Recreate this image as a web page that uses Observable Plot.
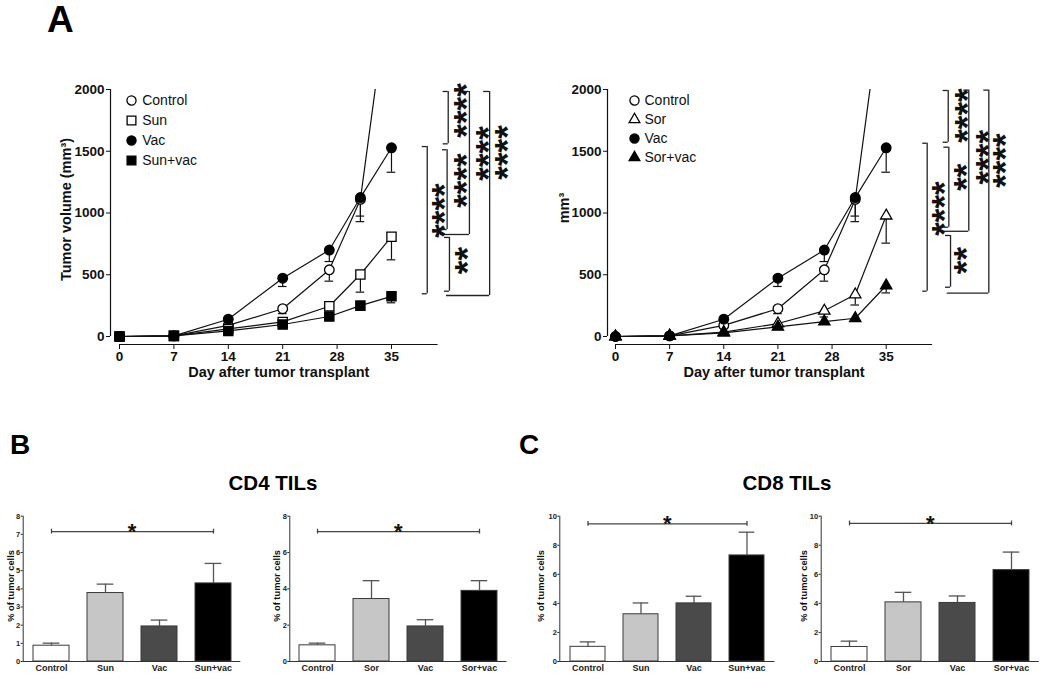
<!DOCTYPE html>
<html>
<head>
<meta charset="utf-8">
<script src="https://cdn.jsdelivr.net/npm/d3@7"></script>
<script src="https://cdn.jsdelivr.net/npm/@observablehq/plot@0.6"></script>
<style>
html,body{margin:0;padding:0;background:#fff;}
body{position:relative;width:1050px;height:678px;overflow:hidden;font-family:"Liberation Sans",Arial,sans-serif;}
.lbl{position:absolute;font-weight:bold;line-height:1;white-space:nowrap;color:#000;}
.holder{position:absolute;}
.holder svg{overflow:visible;}
.bars [aria-label^="y-axis"] text{font-size:7.5px;}
</style>
</head>
<body>
<div class="lbl" style="left:47px;top:1px;font-size:37px">A</div>
<div class="lbl" style="left:10px;top:431px;font-size:28px">B</div>
<div class="lbl" style="left:519px;top:431px;font-size:28px">C</div>
<div class="lbl" style="left:173px;top:473px;width:200px;text-align:center;font-size:20.5px">CD4 TILs</div>
<div class="lbl" style="left:687px;top:473px;width:200px;text-align:center;font-size:20.5px">CD8 TILs</div>
<script>
// ---------------- DATA ----------------
const days = [0, 7, 14, 21, 27, 31, 35];
const dayTicks = [0, 7, 14, 21, 28, 35];
const volTicks = [0, 500, 1000, 1500, 2000];

// tumor volume (mm3), mean and lower error (SEM)
const controlVol = [0, 5, 90, 225, 540, 1110, 2980];
const controlSem = [0, 0, 12, 40, 92, 180, 0];
const vacVol = [0, 5, 140, 472, 700, 1125, 1528];
const vacSem = [0, 0, 18, 67, 93, 150, 198];
const sunVol = [0, 5, 62, 118, 245, 502, 808];
const sunSem = [0, 0, 8, 12, 25, 143, 187];
const sunVacVol = [0, 5, 45, 97, 162, 250, 325];
const sunVacSem = [0, 0, 6, 10, 18, 23, 52];
const sorVol = [0, 5, 35, 105, 208, 340, 978];
const sorSem = [0, 0, 8, 15, 50, 85, 222];
const sorVacVol = [0, 5, 30, 78, 120, 148, 413];
const sorVacSem = [0, 0, 5, 8, 12, 8, 60];

const sunGroups = ["Control", "Sun", "Vac", "Sun+vac"];
const sorGroups = ["Control", "Sor", "Vac", "Sor+vac"];

// significance comparisons (bracket ends and label centre in mm3)
const sunComparisons = [
  {pair: "Control vs Vac", stars: "****", top: 1984, bottom: 1560, labelAt: 1830},
  {pair: "Control vs Sun", stars: "****", top: 1984, bottom: 826, labelAt: 1482},
  {pair: "Control vs Sun+vac", stars: "****", top: 1984, bottom: 332, labelAt: 1490},
  {pair: "Vac vs Sun+vac", stars: "****", top: 1538, bottom: 346, labelAt: 1020},
  {pair: "Vac vs Sun", stars: "****", top: 1512, bottom: 866, labelAt: 1263},
  {pair: "Sun vs Sun+vac", stars: "**", top: 802, bottom: 367, labelAt: 615}
];
const sorComparisons = [
  {pair: "Control vs Vac", stars: "****", top: 1992, bottom: 1573, labelAt: 1789},
  {pair: "Control vs Sor", stars: "****", top: 1995, bottom: 852, labelAt: 1452},
  {pair: "Control vs Sor+vac", stars: "****", top: 1995, bottom: 351, labelAt: 1425},
  {pair: "Vac vs Sor+vac", stars: "****", top: 1565, bottom: 367, labelAt: 1036},
  {pair: "Vac vs Sor", stars: "**", top: 1533, bottom: 885, labelAt: 1290},
  {pair: "Sor vs Sor+vac", stars: "**", top: 818, bottom: 399, labelAt: 615}
];

// TIL bar charts (% of tumor cells)
const cd4SunMean = [0.87, 3.77, 1.93, 4.30];
const cd4SunSem = [0.14, 0.49, 0.35, 1.10];
const cd4SorMean = [0.89, 3.44, 1.93, 3.89];
const cd4SorSem = [0.12, 1.01, 0.37, 0.56];
const cd8SunMean = [1.01, 3.25, 4.00, 7.30];
const cd8SunSem = [0.34, 0.78, 0.49, 1.60];
const cd8SorMean = [1.00, 4.07, 4.03, 6.29];
const cd8SorSem = [0.40, 0.69, 0.48, 1.24];
const ticksCd4a = [0, 1, 2, 3, 4, 5, 6, 7, 8];
const ticksCd4b = [0, 2, 4, 6, 8];
const ticksCd8 = [0, 2, 4, 6, 8, 10];
const sigCd4Sun = 7.15, sigCd4Sor = 7.15, sigCd8Sun = 9.47, sigCd8Sor = 9.5;

// ---------------- STYLE / LAYOUT ----------------
const FONT = '"Liberation Sans", Arial, Helvetica, sans-serif';
const markerStyle = {
  "Control": {symbol: "circle", fill: "white", r: 4.8},
  "Vac": {symbol: "circle", fill: "black", r: 4.8},
  "Sun": {symbol: "square", fill: "white", r: 5.2},
  "Sun+vac": {symbol: "square", fill: "black", r: 5.2},
  "Sor": {symbol: "triangle", fill: "white", r: 4.2},
  "Sor+vac": {symbol: "triangle", fill: "black", r: 4.2}
};
const barFills = ["white", "#c6c6c6", "#4a4a4a", "#000000"];

// bracket geometry in day units (layout)
const sunBracketLayout = [
  {col: 42.30, topFrom: 41.65, bottomFrom: 41.65, starX: 43.62},
  {col: 45.03, topFrom: 44.25, bottomFrom: 41.29, starX: 46.45},
  {col: 47.63, topFrom: 46.86, bottomFrom: 42.08, starX: 48.90},
  {col: 39.60, topFrom: 38.96, bottomFrom: 38.96, starX: 40.79},
  {col: 42.16, topFrom: 41.56, bottomFrom: 41.56, starX: 43.62},
  {col: 42.46, topFrom: 41.82, bottomFrom: 41.82, starX: 43.75}
];
const sorBracketLayout = [
  {col: 43.02, topFrom: 42.37, bottomFrom: 42.37, starX: 44.48},
  {col: 45.68, topFrom: 45.03, bottomFrom: 42.37, starX: 47.19},
  {col: 48.27, topFrom: 47.62, bottomFrom: 42.89, starX: 49.48},
  {col: 40.30, topFrom: 39.73, bottomFrom: 39.73, starX: 41.50},
  {col: 43.10, topFrom: 42.45, bottomFrom: 42.45, starX: 44.39},
  {col: 43.32, topFrom: 42.67, bottomFrom: 42.67, starX: 44.39}
];

function place(node, left, top, cls) {
  const div = document.createElement("div");
  div.className = "holder" + (cls ? " " + cls : "");
  div.style.left = left + "px";
  div.style.top = top + "px";
  div.appendChild(node);
  document.body.appendChild(div);
}

function tumorPanel(o) {
  const rows = o.groups.flatMap(g => days.map((d, i) => ({
    group: g, day: d, vol: o.vol[g][i], sem: o.sem[g][i], lo: o.vol[g][i] - o.sem[g][i]
  })));
  const err = rows.filter(r => r.sem > 0 && r.vol <= 2000);
  const br = o.comparisons.map((c, i) => Object.assign({}, c, o.layout[i]));
  const ink = "#111";
  const marks = [
    Plot.ruleX([0], {y1: () => 0, y2: () => 2000, dx: o.yAxisDx, stroke: ink, strokeWidth: 1.2}),
    Plot.ruleY([0], {x1: () => 0, x2: () => 41, dy: 8, stroke: ink, strokeWidth: 1.2}),
    ...o.groups.map(g => Plot.line(rows.filter(r => r.group === g), {x: "day", y: "vol", stroke: ink, strokeWidth: 1.2, clip: true})),
    Plot.ruleX(err, {x: "day", y1: "lo", y2: "vol", stroke: ink, strokeWidth: 1.2}),
    Plot.ruleY(err, {y: "lo", x1: "day", x2: "day", insetLeft: -4.3, insetRight: -4.3, stroke: ink, strokeWidth: 1.2}),
    ...o.groups.map(g => Plot.dot(rows.filter(r => r.group === g), {
      x: "day", y: "vol", symbol: markerStyle[g].symbol, r: markerStyle[g].r,
      fill: markerStyle[g].fill, stroke: "black", strokeWidth: 1.3, clip: true
    })),
    Plot.ruleX(br, {x: "col", y1: "bottom", y2: "top", stroke: "#222", strokeWidth: 1.3}),
    Plot.ruleY(br, {y: "top", x1: "topFrom", x2: "col", stroke: "#222", strokeWidth: 1.3}),
    Plot.ruleY(br, {y: "bottom", x1: "bottomFrom", x2: "col", stroke: "#222", strokeWidth: 1.3}),
    Plot.text(br, {x: "starX", y: "labelAt", text: "stars", rotate: -90, fontSize: 35, fontWeight: "bold", dx: 8, fill: "#111", textAnchor: "middle"}),
    Plot.text(["Day after tumor transplant"], {x: () => 20.5, frameAnchor: "bottom", text: d => d, dy: 32.5, fontSize: 14.5, fontWeight: "bold", textAnchor: "middle"}),
    Plot.text([o.yLabel], {frameAnchor: "left", text: d => d, rotate: -90, dx: o.yLabelDx, dy: o.yLabelDy, fontSize: 14.5, fontWeight: "bold", textAnchor: "middle"})
  ];
  return Plot.plot({
    width: 525, height: 390,
    marginLeft: o.marginLeft, marginTop: 89, marginBottom: 46, marginRight: 0,
    x: {domain: [0, 41], range: o.xRange, ticks: dayTicks, tickSize: 5, tickPadding: 2, tickFormat: d => `${d}`, label: null},
    y: {domain: [0, 2000], range: [336, 89], ticks: volTicks, tickSize: 4, tickPadding: 2, tickFormat: d => `${d}`, label: null},
    style: {fontFamily: FONT, fontSize: "13.5px", fontWeight: "bold", background: "transparent", color: "#111", overflow: "visible"},
    marks
  });
}

function legendPanel(groups, rangeY, dotDx, textDx) {
  return Plot.plot({
    width: 120, height: 84, margin: 0,
    y: {type: "point", domain: groups, range: rangeY, padding: 0, axis: null},
    style: {fontFamily: FONT, background: "transparent", overflow: "visible"},
    marks: [
      ...groups.map(g => Plot.dot([g], {y: d => d, frameAnchor: "left", dx: dotDx,
        symbol: markerStyle[g].symbol, r: markerStyle[g].r * 0.95, fill: markerStyle[g].fill, stroke: "black", strokeWidth: 1.3})),
      Plot.text(groups, {y: d => d, text: d => d, frameAnchor: "left", dx: textDx, textAnchor: "start", fontSize: 14, fontWeight: "normal", fill: "#111"})
    ]
  });
}

function barPanel(o) {
  const rows = o.groups.map((g, i) => ({group: g, mean: o.mean[i], hi: o.mean[i] + o.sem[i], fill: barFills[i]}));
  const ink = "#333";
  return Plot.plot({
    width: o.width, height: 178,
    marginLeft: o.ml, marginRight: o.mr, marginTop: 15.7, marginBottom: 17,
    x: {type: "band", domain: o.groups, paddingInner: 0.34, paddingOuter: 0.17, tickSize: 0, tickPadding: 3, label: null},
    y: {domain: [0, o.yMax], ticks: o.yTicks, tickSize: 2, tickPadding: 1, tickFormat: d => `${d}`, label: null},
    style: {fontFamily: FONT, fontSize: "9px", fontWeight: "bold", background: "transparent", color: "#222", overflow: "visible"},
    marks: [
      ...rows.map(r => Plot.barY([r], {x: "group", y: "mean", fill: r.fill, stroke: "#3a3a3a", strokeWidth: 1})),
      Plot.ruleX(rows, {x: "group", y1: "mean", y2: "hi", stroke: "#555", strokeWidth: 1.3}),
      Plot.tickY(rows, {x: "group", y: "hi", insetLeft: 9.7, insetRight: 9.7, stroke: "#555", strokeWidth: 1.3}),
      Plot.ruleY([0], {stroke: ink, strokeWidth: 1}),
      Plot.frame({anchor: "left", stroke: ink, strokeWidth: 1}),
      Plot.link([o.sig], {x1: () => o.groups[0], x2: () => o.groups[3], y1: d => d, y2: d => d, stroke: "#444", strokeWidth: 1.3}),
      Plot.ruleX([o.groups[0], o.groups[3]], {x: d => d, y1: () => o.sig, y2: () => o.sig, insetTop: -2.4, insetBottom: -2.4, stroke: "#444", strokeWidth: 1.3}),
      Plot.text([o.sig], {y: d => d, text: () => "*", fontSize: 22, fontWeight: "bold", fill: "#111", textAnchor: "middle"}),
      Plot.text(["% of tumor cells"], {frameAnchor: "left", text: d => d, rotate: -90, dx: o.labDx, dy: -2.9, fontSize: 9.3, fontWeight: "bold", fill: "#111", textAnchor: "middle"})
    ]
  });
}

// ---------------- RENDER ----------------
place(tumorPanel({
  groups: sunGroups,
  vol: {"Control": controlVol, "Sun": sunVol, "Vac": vacVol, "Sun+vac": sunVacVol},
  sem: {"Control": controlSem, "Sun": sunSem, "Vac": vacSem, "Sun+vac": sunVacSem},
  comparisons: sunComparisons, layout: sunBracketLayout,
  marginLeft: 110, xRange: [119, 119 + 41 * 7.771], yAxisDx: -9,
  yLabel: "Tumor volume (mm³)", yLabelDx: -44, yLabelDy: -7.5
}), 0, 0);
place(legendPanel(sunGroups, [11.3, 72.7], 11, 21.7), 120, 88);

place(tumorPanel({
  groups: sorGroups,
  vol: {"Control": controlVol, "Sor": sorVol, "Vac": vacVol, "Sor+vac": sorVacVol},
  sem: {"Control": controlSem, "Sor": sorSem, "Vac": vacSem, "Sor+vac": sorVacSem},
  comparisons: sorComparisons, layout: sorBracketLayout,
  marginLeft: 82, xRange: [90, 90 + 41 * 7.734], yAxisDx: -8,
  yLabel: "mm³", yLabelDx: -43, yLabelDy: -9
}), 525, 0);
place(legendPanel(sorGroups, [11.3, 69.3], 14, 24), 620, 88);

place(barPanel({groups: sunGroups, mean: cd4SunMean, sem: cd4SunSem, yMax: 8, yTicks: ticksCd4a, sig: sigCd4Sun,
  width: 262, ml: 22.7, mr: 21.7, labDx: -12.4}), 0, 500, "bars");
place(barPanel({groups: sorGroups, mean: cd4SorMean, sem: cd4SorSem, yMax: 8, yTicks: ticksCd4b, sig: sigCd4Sor,
  width: 262, ml: 27.3, mr: 17.5, labDx: -12.6}), 262, 500, "bars");
place(barPanel({groups: sunGroups, mean: cd8SunMean, sem: cd8SunSem, yMax: 10, yTicks: ticksCd8, sig: sigCd8Sun,
  width: 262, ml: 35.3, mr: 11.5, labDx: -19}), 524, 500, "bars");
place(barPanel({groups: sorGroups, mean: cd8SorMean, sem: cd8SorSem, yMax: 10, yTicks: ticksCd8, sig: sigCd8Sor,
  width: 264, ml: 34.7, mr: 11.3, labDx: -17.4}), 786, 500, "bars");
</script>
</body>
</html>
